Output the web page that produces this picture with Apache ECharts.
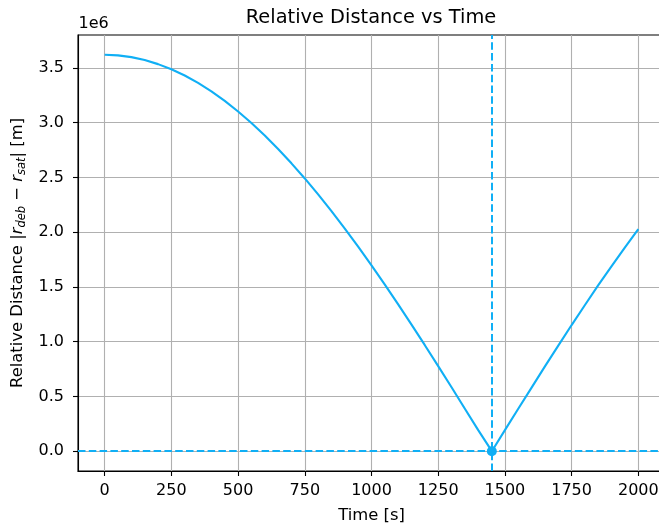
<!DOCTYPE html>
<html>
<head>
<meta charset="utf-8">
<script src="https://cdn.jsdelivr.net/npm/echarts@6/dist/echarts.min.js"></script>
<style>
html,body{margin:0;padding:0;background:#fff;}
#chart{width:659px;height:524px;}
</style>
</head>
<body>
<div id="chart"></div>
<script>
// Time [s]
const timeS = [0,50,100,150,200,250,300,350,400,450,500,550,600,650,700,750,800,850,900,950,1000,
  1050,1100,1150,1200,1250,1300,1350,1400,1451,1500,1550,1600,1650,1700,1750,1800,1850,1900,1950,2000];
// Relative distance, in units of 1e6 m
const distance1e6m = [3.620,3.615,3.599,3.572,3.535,3.488,3.431,3.363,3.286,3.199,3.102,2.997,2.883,2.760,2.629,2.491,
  2.345,2.192,2.033,1.868,1.697,1.521,1.341,1.156,0.968,0.777,0.584,0.388,0.192,0.000,0.192,0.387,0.581,0.774,0.964,
  1.152,1.335,1.516,1.691,1.862,2.027];
// Closest approach
const closestTime = 1451;
const closestDist = 0.0;
// Tick labels
const xTicks = [0,250,500,750,1000,1250,1500,1750,2000];
const yTicks = [0.0,0.5,1.0,1.5,2.0,2.5,3.0,3.5];

const lineColor = '#10aff5';
const FONT = 'DejaVu Sans';

const chart = echarts.init(document.getElementById('chart'), null, {renderer:'canvas'});
const option = {
  animation: false,
  backgroundColor: '#fff',
  grid: {left: 78, top: 35, right: -6, bottom: 53, outerBoundsMode: 'none', containLabel: false,
    show: true, borderColor: '#000', borderWidth: 1.1, backgroundColor: 'transparent'},
  graphic: [
    {type:'text', x: 371, y: 18, style:{text:'Relative Distance vs Time', font:'19.4px "DejaVu Sans"', fill:'#000', align:'center', verticalAlign:'middle'}},
    {type:'text', x: 78.5, y: 23.5, style:{text:'1e6', font:'16px "DejaVu Sans"', fill:'#000', align:'left', verticalAlign:'middle'}}
  ],
  xAxis: {
    type: 'value', min: -100, max: 2100,
    name: 'Time [s]', nameLocation: 'middle', nameGap: 37,
    nameTextStyle: {fontFamily: FONT, fontSize: 16.4, color: '#000'},
    axisLine: {show: true, onZero: false, lineStyle: {color: '#000', width: 1.1}},
    axisTick: {show: true, length: 5, lineStyle: {color: '#000', width: 1.1}, customValues: xTicks},
    axisLabel: {show: true, margin: 12, fontFamily: FONT, fontSize: 16, color: '#000', customValues: xTicks,
      formatter: v => String(Math.round(v))},
    splitLine: {show: true, lineStyle: {color: '#b0b0b0', width: 1.1}}
  },
  yAxis: {
    type: 'value', min: -0.181, max: 3.801,
    name: 'Relative Distance |{i|r}{s|deb}{n| − }{i|r}{s|sat}{n|| [m]}',
    nameLocation: 'middle', nameRotate: 90, nameGap: 44,
    nameTextStyle: {fontFamily: FONT, fontSize: 16.4, color: '#000', lineHeight: 20,
      rich: {
        i: {fontFamily: FONT, fontStyle: 'italic', fontSize: 16.4, color: '#000', lineHeight: 20},
        s: {fontFamily: FONT, fontStyle: 'italic', fontSize: 11.5, color: '#000', lineHeight: 12, verticalAlign: 'bottom'},
        n: {fontFamily: FONT, fontSize: 16.4, color: '#000', lineHeight: 20}
      }},
    axisLine: {show: true, onZero: false, lineStyle: {color: '#000', width: 1.1}},
    axisTick: {show: true, length: 5, lineStyle: {color: '#000', width: 1.1}, customValues: yTicks},
    axisLabel: {show: true, margin: 14, fontFamily: FONT, fontSize: 16, color: '#000', customValues: yTicks,
      formatter: v => v.toFixed(1)},
    splitLine: {show: true, lineStyle: {color: '#b0b0b0', width: 1.1}}
  },
  series: [
    {
      type: 'line', data: timeS.map((t, i) => [t, distance1e6m[i]]),
      showSymbol: false, symbol: 'none', clip: true,
      lineStyle: {color: lineColor, width: 2.1}, z: 3,
      markLine: {
        silent: true, symbol: ['none','none'], label: {show: false},
        lineStyle: {color: lineColor, width: 2, type: [7.5, 3.3]},
        data: [{xAxis: closestTime}, {yAxis: closestDist}]
      }
    },
    {
      type: 'scatter', data: [[closestTime, closestDist]], symbol: 'circle', symbolSize: 10,
      itemStyle: {color: lineColor, opacity: 1}, z: 4
    }
  ]
};
chart.setOption(option);
</script>
</body>
</html>
